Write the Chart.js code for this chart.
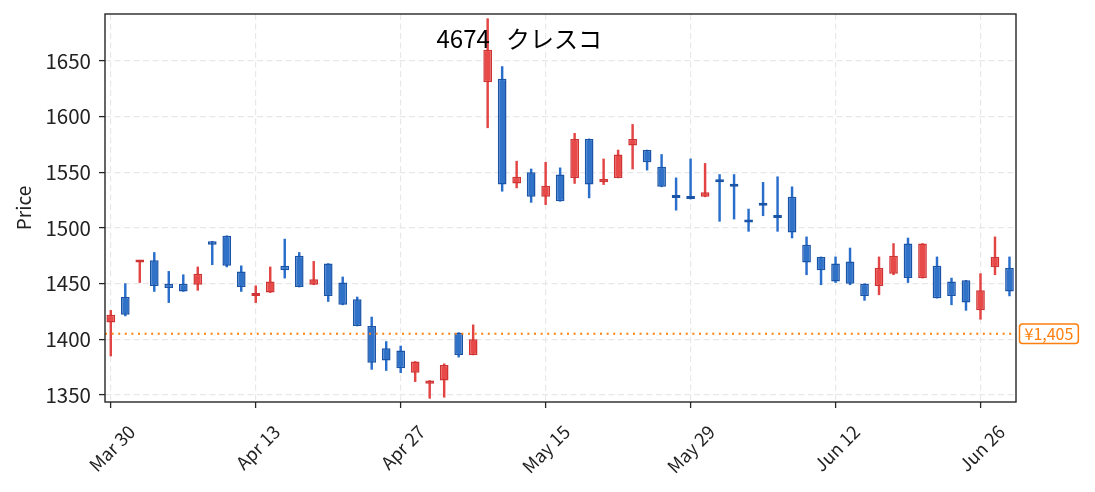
<!DOCTYPE html>
<html lang="ja">
<head>
<meta charset="UTF-8">
<title>4674 クレスコ</title>
<script src="https://cdn.jsdelivr.net/npm/chart.js"></script>
<style>
    html, body { margin: 0; padding: 0; background: #fff; }
    #wrap { width: 1095px; height: 492px; position: relative; }
</style>
</head>
<body>
<div id="wrap"><canvas id="chart"></canvas></div>
<script>
// trading days (x axis is a trading-day index)
const dates = [
    '2020-03-30','2020-03-31','2020-04-01','2020-04-02','2020-04-03','2020-04-06','2020-04-07','2020-04-08','2020-04-09','2020-04-10',
    '2020-04-13','2020-04-14','2020-04-15','2020-04-16','2020-04-17','2020-04-20','2020-04-21','2020-04-22','2020-04-23','2020-04-24',
    '2020-04-27','2020-04-28','2020-04-30','2020-05-01','2020-05-07','2020-05-08','2020-05-11','2020-05-12','2020-05-13','2020-05-14',
    '2020-05-15','2020-05-18','2020-05-19','2020-05-20','2020-05-21','2020-05-22','2020-05-25','2020-05-26','2020-05-27','2020-05-28',
    '2020-05-29','2020-06-01','2020-06-02','2020-06-03','2020-06-04','2020-06-05','2020-06-08','2020-06-09','2020-06-10','2020-06-11',
    '2020-06-12','2020-06-15','2020-06-16','2020-06-17','2020-06-18','2020-06-19','2020-06-22','2020-06-23','2020-06-24','2020-06-25',
    '2020-06-26','2020-06-29','2020-06-30'
];
const opens = [
    1415, 1438, 1469, 1471, 1450, 1450, 1449, 1488, 1493, 1461,
    1439, 1442, 1466, 1475, 1449, 1468, 1451, 1436, 1412, 1392,
    1390, 1370, 1360, 1363, 1406, 1386, 1631, 1634, 1540, 1550,
    1528, 1548, 1545, 1580, 1541, 1545, 1574, 1570, 1555, 1528,
    1527, 1528, 1542, 1539, 1506, 1521, 1511, 1528, 1485, 1474,
    1468, 1470, 1450, 1448, 1459, 1486, 1455, 1466, 1452, 1453,
    1426, 1465, 1464
];
const highs = [
    1426, 1450, 1471, 1478, 1461, 1458, 1465, 1488, 1493, 1466,
    1448, 1465, 1490, 1478, 1470, 1468, 1456, 1438, 1420, 1398,
    1394, 1380, 1363, 1378, 1406, 1413, 1688, 1645, 1560, 1553,
    1559, 1554, 1585, 1580, 1562, 1570, 1593, 1570, 1566, 1545,
    1562, 1558, 1548, 1548, 1517, 1541, 1546, 1537, 1492, 1474,
    1474, 1482, 1450, 1474, 1486, 1491, 1486, 1474, 1455, 1453,
    1459, 1492, 1474
];
const lows = [
    1385, 1421, 1451, 1443, 1433, 1443, 1444, 1467, 1465, 1443,
    1433, 1442, 1455, 1447, 1449, 1434, 1431, 1412, 1373, 1372,
    1370, 1362, 1347, 1348, 1384, 1386, 1590, 1533, 1536, 1523,
    1521, 1524, 1540, 1527, 1539, 1545, 1553, 1552, 1537, 1516,
    1526, 1528, 1506, 1508, 1497, 1511, 1497, 1491, 1458, 1449,
    1451, 1449, 1435, 1440, 1458, 1451, 1455, 1437, 1431, 1426,
    1418, 1458, 1439
];
const closes = [
    1422, 1422, 1471, 1448, 1446, 1443, 1459, 1485, 1466, 1447,
    1441, 1452, 1462, 1447, 1454, 1439, 1431, 1412, 1379, 1381,
    1374, 1380, 1363, 1377, 1386, 1400, 1660, 1539, 1546, 1528,
    1538, 1524, 1580, 1539, 1544, 1566, 1580, 1559, 1537, 1527,
    1526, 1532, 1541, 1537, 1505, 1520, 1509, 1496, 1469, 1462,
    1452, 1450, 1439, 1464, 1475, 1455, 1486, 1437, 1439, 1433,
    1444, 1474, 1443
];
const tickIdx = [0, 10, 20, 30, 40, 50, 60];
const tickLabels = ['Mar 30', 'Apr 13', 'Apr 27', 'May 15', 'May 29', 'Jun 12', 'Jun 26'];
const yTicks = [1350, 1400, 1450, 1500, 1550, 1600, 1650];
const lastPrice = 1405;
const chartTitle = '4674   クレスコ';

const FONT = '"Noto Sans CJK JP", "Noto Sans", sans-serif';
const UP = { fill: '#e84a4a', edge: '#cf3434' };
const DOWN = { fill: '#2f72c8', edge: '#1b54a6' };
const ORANGE = '#ff7f0e';
const X_MIN = -0.4, X_MAX = 62.45;

const isUp = i => closes[i] >= opens[i];
const bodies = dates.map((d, i) => ({ x: i, y: [opens[i], closes[i]] }));
const wicks = dates.map((d, i) => ({ x: i, y: [lows[i], highs[i]] }));

// frame, title and last-price tag
const extras = {
    id: 'extras',
    afterDraw(chart) {
        const { ctx, chartArea: a, scales: { y } } = chart;
        ctx.save();
        ctx.strokeStyle = '#262626';
        ctx.lineWidth = 1.4;
        ctx.strokeRect(a.left, a.top, a.right - a.left, a.bottom - a.top);

        ctx.fillStyle = '#000';
        ctx.font = '24px ' + FONT;
        ctx.textAlign = 'left';
        ctx.textBaseline = 'alphabetic';
        ctx.fillText(chartTitle, 436.5, 48);

        const py = y.getPixelForValue(lastPrice);
        const txt = '¥' + lastPrice.toLocaleString('en-US');
        ctx.font = '16px ' + FONT;
        const w = ctx.measureText(txt).width + 10, h = 19.5;
        const bx = a.right + 3.5;
        ctx.beginPath();
        ctx.roundRect(bx, py - h / 2, w, h, 3);
        ctx.fillStyle = '#fff';
        ctx.fill();
        ctx.strokeStyle = ORANGE;
        ctx.lineWidth = 1.5;
        ctx.stroke();
        ctx.fillStyle = ORANGE;
        ctx.textAlign = 'left';
        ctx.textBaseline = 'middle';
        ctx.fillText(txt, bx + 5, py + 0.5);
        ctx.restore();
    }
};

new Chart(document.getElementById('chart'), {
    type: 'bar',
    data: {
        datasets: [
            {
                type: 'line',
                data: [{ x: X_MIN, y: lastPrice }, { x: X_MAX, y: lastPrice }],
                borderColor: ORANGE,
                borderWidth: 2,
                borderDash: [2, 4.6],
                pointRadius: 0,
                order: 0
            },
            {
                data: bodies,
                backgroundColor: dates.map((d, i) => isUp(i) ? UP.fill : DOWN.fill),
                borderColor: dates.map((d, i) => isUp(i) ? UP.edge : DOWN.edge),
                borderWidth: 1.5,
                borderSkipped: false,
                barPercentage: 0.6,
                categoryPercentage: 1,
                minBarLength: 3,
                grouped: false,
                order: 1
            },
            {
                data: wicks,
                backgroundColor: dates.map((d, i) => isUp(i) ? '#e34444' : '#2a6ecb'),
                borderWidth: 0,
                barThickness: 1.8,
                grouped: false,
                order: 2
            }
        ]
    },
    options: {
        responsive: true,
        maintainAspectRatio: false,
        animation: false,
        layout: { padding: { left: 0, right: 79, top: 14, bottom: 0 } },
        plugins: {
            legend: { display: false },
            tooltip: { enabled: false }
        },
        scales: {
            x: {
                type: 'linear',
                min: X_MIN,
                max: X_MAX,
                offset: false,
                afterFit: s => { s.height = 90; s.paddingLeft = 0; s.paddingRight = 0; },
                afterBuildTicks: s => { s.ticks = tickIdx.map(v => ({ value: v })); },
                grid: {
                    offset: false,
                    color: '#e8e8e8',
                    lineWidth: 1.2,
                    tickColor: '#262626',
                    tickWidth: 1.3,
                    tickLength: 6
                },
                border: { display: false, dash: [6, 3.5] },
                ticks: {
                    autoSkip: false,
                    maxRotation: 45,
                    minRotation: 45,
                    labelOffset: 21,
                    padding: 13,
                    color: '#222',
                    font: { family: FONT, size: 18 },
                    callback: v => tickLabels[tickIdx.indexOf(v)]
                }
            },
            y: {
                min: 1343.7,
                max: 1692.2,
                afterFit: s => { s.width = 105; s.paddingTop = 0; s.paddingBottom = 0; },
                afterBuildTicks: s => { s.ticks = yTicks.map(v => ({ value: v })); },
                grid: {
                    color: '#e8e8e8',
                    lineWidth: 1.2,
                    tickColor: '#262626',
                    tickWidth: 1.3,
                    tickLength: 6
                },
                border: { display: false, dash: [6, 3.5] },
                ticks: {
                    padding: 8,
                    color: '#222',
                    font: { family: FONT, size: 20.5 },
                    callback: v => String(v)
                },
                title: {
                    display: true,
                    text: 'Price',
                    color: '#222',
                    font: { family: FONT, size: 19 },
                    padding: { top: 12, bottom: 0 }
                }
            }
        }
    },
    plugins: [extras]
});
</script>
</body>
</html>
